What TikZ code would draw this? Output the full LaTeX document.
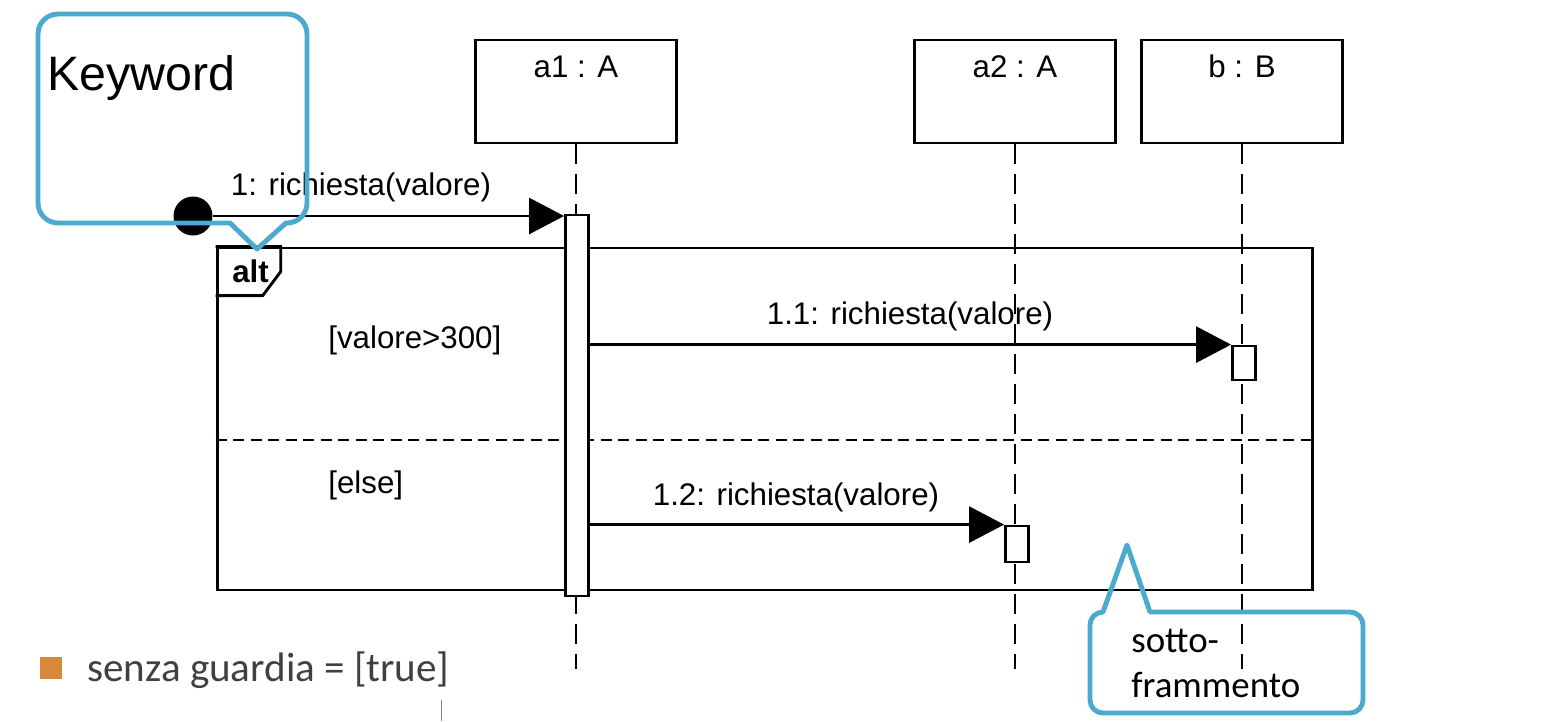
\documentclass[tikz,border=0pt]{standalone}
\usepackage{fontspec}
\setmainfont{Liberation Sans}
\newfontfamily\calibri{Carlito}
\usepackage{tikz}
\usetikzlibrary{arrows.meta, positioning, calc}

\definecolor{callblue}{RGB}{75,170,205}
\definecolor{bulletorange}{RGB}{215,137,55}
\definecolor{notegray}{RGB}{64,64,64}

\tikzset{
	lifebox/.style={draw, line width=1.6pt, minimum width=4.02cm, minimum height=2.06cm, inner sep=0pt},
	lifeline/.style={line width=1.6pt, dash pattern=on 0.4cm off 0.2cm},
	activation/.style={draw, fill=white, line width=1.6pt, minimum width=0.46cm, inner sep=0pt},
	msg/.style={line width=1.6pt, -{Triangle[length=0.7cm, width=0.72cm]}},
	txt/.style={font=\fontsize{17.8}{21}\selectfont, inner sep=0pt},
	callout/.style={draw=callblue, line width=2.8pt, line join=round}
}

\begin{document}
\begin{tikzpicture}[x=0.02cm, y=-0.02cm]
	\useasboundingbox (0,0) rectangle (1556,721);
	
	\foreach \name/\x/\lbl in {a1/576/a1 : A, a2/1015/a2 : A, b/1242/b : B}
	{
		\node [lifebox] (\name) at (\x, 91.5) {};
		\node [txt, anchor=base] (\name-lbl) at (\x, 77) {\lbl};
		\draw [lifeline] (\name.south) -- ++(0, 525);
	}
	
	% frame alt
	\node [draw, line width=1.6pt, minimum width=21.92cm, minimum height=6.84cm, inner sep=0pt] (alt) at (765, 419) {};
	\draw [line width=1.6pt] (alt.north west) -- ++(65,0) -- ++(0,25) -- ++(-18,24) -- ++(-47,0);
	\node [txt, font=\fontsize{17.8}{21}\selectfont\bfseries, anchor=base west] (alt-lbl) at (232, 282) {alt};
	\coordinate (sep) at (0, 440);
	\draw [line width=1.6pt, dash pattern=on 0.22cm off 0.13cm] (alt.west |- sep) -- (alt.east |- sep);
	\node [txt, anchor=base west] (guard1) at (328, 348) {[valore>300]};
	\node [txt, anchor=base west] (guard2) at (328, 493) {[else]};
	
	\node [activation, minimum height=7.62cm] (act-a1) at (577, 405.5) {};
	\node [activation, minimum height=0.68cm] (act-b) at (1244, 363) {};
	\node [activation, minimum height=0.72cm] (act-a2) at (1017, 544) {};
	
	% messaggi
	\node [circle, fill, minimum size=0.78cm, inner sep=0pt] (found) at (193, 216) {};
	\draw [msg] (found.east) -- (found.east -| act-a1.west);
	\draw [msg] (act-a1.east |- act-b.north) -- (act-b.north west);
	\draw [msg] (act-a1.east |- act-a2.north) -- (act-a2.north west);
	\node [txt, anchor=base] (m1) at (361, 195) {1: richiesta(valore)};
	\node [txt, anchor=base] (m11) at (910, 324) {1.1: richiesta(valore)};
	\node [txt, anchor=base] (m12) at (796, 505) {1.2: richiesta(valore)};
	
	% callout
	\draw [callout, rounded corners=0.4cm] (286,223) -- (307,223) -- (307,14) -- (38,14) -- (38,223) [sharp corners] -- (230,223) -- (257,249) -- cycle;
	\node [font=\fontsize{27.5}{33}\selectfont, anchor=base west, inner sep=0pt] (kw) at (47, 90) {Keyword};
	
	\draw [callout, rounded corners=0.26cm] (1150,612) -- (1363,612) -- (1363,713) -- (1090,713) -- (1090,612) [sharp corners] -- (1103,612) -- (1127,545) -- cycle;
	\node [font=\calibri\fontsize{21}{25}\selectfont, anchor=base west, inner sep=0pt] (sub1) at (1131, 652) {sotto-};
	\node [font=\calibri\fontsize{21}{25}\selectfont, anchor=base west, inner sep=0pt] (sub2) at (1131, 697) {frammento};
	
	\node [fill=bulletorange, minimum size=0.44cm, inner sep=0pt] (bullet) at (51, 668) {};
	\node [font=\calibri\fontsize{23.4}{28}\selectfont, text=notegray, anchor=base west, inner sep=0pt] (note) at (87, 681) {senza guardia = [true]};
	\draw [gray, line width=0.3pt] (441,700) -- (441,721);
\end{tikzpicture}
\end{document}
